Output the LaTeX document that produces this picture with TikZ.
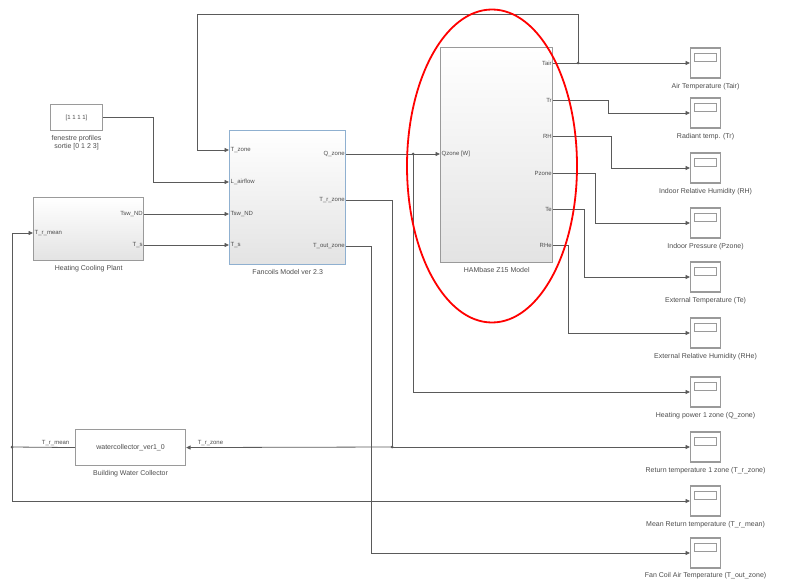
\documentclass[tikz,border=0pt]{standalone}
\usepackage{fontspec}
\setsansfont{Liberation Sans}
\usetikzlibrary{arrows.meta, positioning, shapes.geometric, calc}
\definecolor{wirec}{HTML}{5A5A5A}
\definecolor{edgec}{HTML}{9A9A9A}
\definecolor{fanedge}{HTML}{8FB0D0}

\begin{document}
\begin{tikzpicture}[
  x=1pt, y=-1pt,
  font=\fontsize{7}{8}\selectfont\sffamily,
  blk/.style={draw=edgec, line width=1.4pt, top color=white, bottom color=gray!22,
              anchor=north west, inner sep=0pt},
  plain/.style={draw=edgec, line width=1.1pt, fill=white, anchor=north west, inner sep=0pt,
                text=black!70},
  port/.style={inner sep=1.5pt, text=black!70, font=\fontsize{6}{7}\selectfont\sffamily},
  blkname/.style={inner sep=1pt, align=center, text=black!70},
  scopebox/.style={draw=edgec, line width=1.1pt, fill=white, minimum width=30pt,
                   minimum height=30pt, anchor=west, inner sep=0pt,
                   path picture={\draw[edgec, line width=0.9pt]
                     ($(path picture bounding box.north west)+(4pt,-5pt)$) rectangle
                     ($(path picture bounding box.east)+(-4pt,2pt)$);}},
  sig/.style={-{Triangle[length=4.5pt, width=4pt]}, wirec, line width=0.8pt},
  wire/.style={wirec, line width=0.8pt},
  dot/.style={circle, fill=wirec, inner sep=0pt, minimum size=3pt},
]
  \useasboundingbox (0,0) rectangle (785,583);

  % blocks
  \node[plain, minimum width=52pt, minimum height=26pt, font=\fontsize{6}{7}\selectfont\sffamily] (prof) at (50,104) {[1 1 1 1]};
  \node[blkname, below=3pt of prof] (profname) {fenestre profiles\\sortie [0 1 2 3]};
  \node[blk, minimum width=110pt, minimum height=63pt] (plant) at (33,197) {};
  \node[blkname, below=3pt of plant] (plantname) {Heating Cooling Plant};
  \node[blk, draw=fanedge, minimum width=116pt, minimum height=134pt] (fan) at (229,130) {};
  \node[blkname, below=3pt of fan] (fanname) {Fancoils Model ver 2.3};
  \node[blk, minimum width=112pt, minimum height=215pt] (ham) at (440,47) {};
  \node[blkname, below=3pt of ham] (hamname) {HAMbase Z15 Model};
  \node[plain, minimum width=110pt, minimum height=36pt] (coll) at (75,429) {watercollector\_ver1\_0};
  \node[blkname, below=3pt of coll] (collname) {Building Water Collector};

  % ports
  \coordinate (plant-in) at (plant.west |- 0,233);
  \coordinate (plant-o1) at (plant.east |- 0,214);
  \coordinate (plant-o2) at (plant.east |- 0,245);
  \coordinate (fan-in1) at (fan.west |- 0,150);
  \coordinate (fan-in2) at (fan.west |- 0,182);
  \coordinate (fan-in3) at (fan.west |- 0,214);
  \coordinate (fan-in4) at (fan.west |- 0,245);
  \coordinate (fan-o1) at (fan.east |- 0,154);
  \coordinate (fan-o2) at (fan.east |- 0,200);
  \coordinate (fan-o3) at (fan.east |- 0,246);
  \coordinate (ham-in) at (ham.west |- 0,154);
  \coordinate (ham-o1) at (ham.east |- 0,63);
  \coordinate (ham-o2) at (ham.east |- 0,100);
  \coordinate (ham-o3) at (ham.east |- 0,136);
  \coordinate (ham-o4) at (ham.east |- 0,173);
  \coordinate (ham-o5) at (ham.east |- 0,209);
  \coordinate (ham-o6) at (ham.east |- 0,245);

  \node[port, anchor=west] (lplantin) at (plant-in) {T\_r\_mean};
  \node[port, anchor=east] (lplanto1) at (plant-o1) {Tsw\_ND};
  \node[port, anchor=east] (lplanto2) at (plant-o2) {T\_s};
  \node[port, anchor=west] (lfanin1) at (fan-in1) {T\_zone};
  \node[port, anchor=west] (lfanin2) at (fan-in2) {L\_airflow};
  \node[port, anchor=west] (lfanin3) at (fan-in3) {Tsw\_ND};
  \node[port, anchor=west] (lfanin4) at (fan-in4) {T\_s};
  \node[port, anchor=east] (lfano1) at (fan-o1) {Q\_zone};
  \node[port, anchor=east] (lfano2) at (fan-o2) {T\_r\_zone};
  \node[port, anchor=east] (lfano3) at (fan-o3) {T\_out\_zone};
  \node[port, anchor=west] (lhamin) at (ham-in) {Qzone [W]};
  \node[port, anchor=east] (lhamo1) at (ham-o1) {Tair};
  \node[port, anchor=east] (lhamo2) at (ham-o2) {Tr};
  \node[port, anchor=east] (lhamo3) at (ham-o3) {RH};
  \node[port, anchor=east] (lhamo4) at (ham-o4) {Pzone};
  \node[port, anchor=east] (lhamo5) at (ham-o5) {Te};
  \node[port, anchor=east] (lhamo6) at (ham-o6) {RHe};
  \node[port, anchor=south east] (lcollout) at ($(coll.west)+(-4,0)$) {T\_r\_mean};
  \node[port, anchor=south west] (lcollin) at ($(coll.east)+(10,0)$) {T\_r\_zone};

  % scopes
  \node[scopebox] (sc1) at (690,63) {};
  \node[blkname, below=4pt of sc1] (sc1name) {Air Temperature (Tair)};
  \node[scopebox] (sc2) at (690,113) {};
  \node[blkname, below=4pt of sc2] (sc2name) {Radiant temp. (Tr)};
  \node[scopebox] (sc3) at (690,168) {};
  \node[blkname, below=4pt of sc3] (sc3name) {Indoor Relative Humidity (RH)};
  \node[scopebox] (sc4) at (690,223) {};
  \node[blkname, below=4pt of sc4] (sc4name) {Indoor Pressure (Pzone)};
  \node[scopebox] (sc5) at (690,277) {};
  \node[blkname, below=4pt of sc5] (sc5name) {External Temperature (Te)};
  \node[scopebox] (sc6) at (690,333) {};
  \node[blkname, below=4pt of sc6] (sc6name) {External Relative Humidity (RHe)};
  \node[scopebox] (sc7) at (690,392) {};
  \node[blkname, below=4pt of sc7] (sc7name) {Heating power 1 zone (Q\_zone)};
  \node[scopebox] (sc8) at (690,447) {};
  \node[blkname, below=4pt of sc8] (sc8name) {Return temperature 1 zone (T\_r\_zone)};
  \node[scopebox] (sc9) at (690,501) {};
  \node[blkname, below=4pt of sc9] (sc9name) {Mean Return temperature (T\_r\_mean)};
  \node[scopebox] (sc10) at (690,553) {};
  \node[blkname, below=3pt of sc10] (sc10name) {Fan Coil Air Temperature (T\_out\_zone)};

  % branch points
  \coordinate (j1) at (578,63);
  \coordinate (j2) at (413,154);
  \coordinate (j3) at (392,447);
  \coordinate (j4) at (12,447);

  % signals
  \draw[sig] (ham-o1) -- (sc1.west);
  \draw[sig] (j1) |- ($(fan-in1)+(-32,-136)$) |- (fan-in1);
  \draw[sig] (prof.east) -| ($(fan-in2)+(-76,0)$) -- (fan-in2);
  \draw[sig] (plant-o1) -- (fan-in3);
  \draw[sig] (plant-o2) -- (fan-in4);
  \draw[sig] (fan-o1) -- (ham-in);
  \draw[sig] (j2) |- (sc7.west);
  \draw[wire] (fan-o2) -| (j3);
  \draw[sig] (j3) -- (sc8.west);
  \draw[sig] (j3) -- (coll.east);
  \draw[sig] (fan-o3) -- ++(25,0) |- (sc10.west);
  \draw[wire] (coll.west) -- (j4);
  \draw[sig] (j4) |- (plant-in);
  \draw[sig] (j4) |- (sc9.west);
  \draw[sig] (ham-o2) -- ++(55,0) |- (sc2.west);
  \draw[sig] (ham-o3) -- ++(58,0) |- (sc3.west);
  \draw[sig] (ham-o4) -- ++(42,0) |- (sc4.west);
  \draw[sig] (ham-o5) -- ++(31,0) |- (sc5.west);
  \draw[sig] (ham-o6) -- ++(15,0) |- (sc6.west);
  \foreach \j in {j1,j2,j3,j4} \node[dot] at (\j) {};

  % highlight
  \node[draw=red, line width=1.8pt, ellipse, minimum width=170pt, minimum height=313pt] (focus) at (492,166) {};
\end{tikzpicture}
\end{document}
